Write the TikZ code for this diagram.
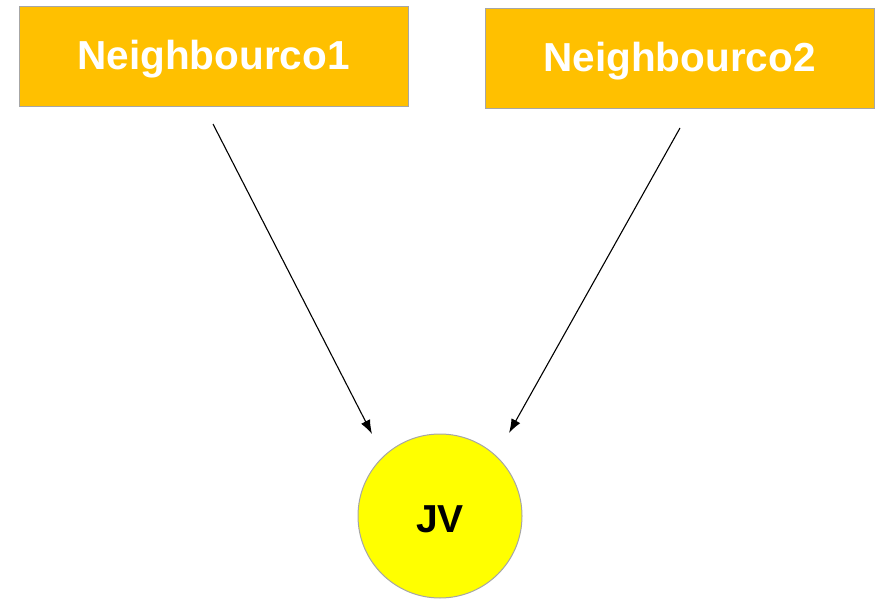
\documentclass[tikz,border=0pt]{standalone}
\usepackage{fontspec}
\setmainfont{Liberation Sans}
\usetikzlibrary{arrows.meta}
\definecolor{boxfill}{HTML}{FFC000}
\definecolor{edgegray}{HTML}{A6A6A6}
\definecolor{sunfill}{HTML}{FFFF00}
\begin{document}
\begin{tikzpicture}[x=1pt,y=-1pt,
  partner/.style={draw=edgegray,line width=1pt,fill=boxfill,minimum width=389pt,minimum height=100pt,
    inner sep=0pt,text=white,font=\fontsize{40.5}{44}\selectfont\bfseries},
  venture/.style={circle,draw=edgegray,line width=1pt,fill=sunfill,minimum size=164pt,inner sep=0pt,
    font=\fontsize{39}{42}\selectfont\bfseries},
  link/.style={draw=black,line width=1.1pt,-{Latex[length=14pt,width=10pt]}}]
  \useasboundingbox (0,0) rectangle (886,599);
  \node[partner] (n1) at (213.5,57) {};
  \node[partner] (n2) at (679.5,59) {};
  \node[text=white,font=\fontsize{40.5}{44}\selectfont\bfseries] (t1) at (213.5,59) {Neighbourco1};
  \node[text=white,font=\fontsize{40.5}{44}\selectfont\bfseries] (t2) at (679.5,61) {Neighbourco2};
  \node[venture] (jv) at (440,516) {};
  \node[font=\fontsize{39}{42}\selectfont\bfseries] (jvt) at (440,519) {JV};
  \coordinate (s1) at (213,124);
  \coordinate (e1) at (372,434);
  \coordinate (s2) at (680,128);
  \coordinate (e2) at (509,433);
  \draw[link] (s1) -- (e1);
  \draw[link] (s2) -- (e2);
\end{tikzpicture}
\end{document}
